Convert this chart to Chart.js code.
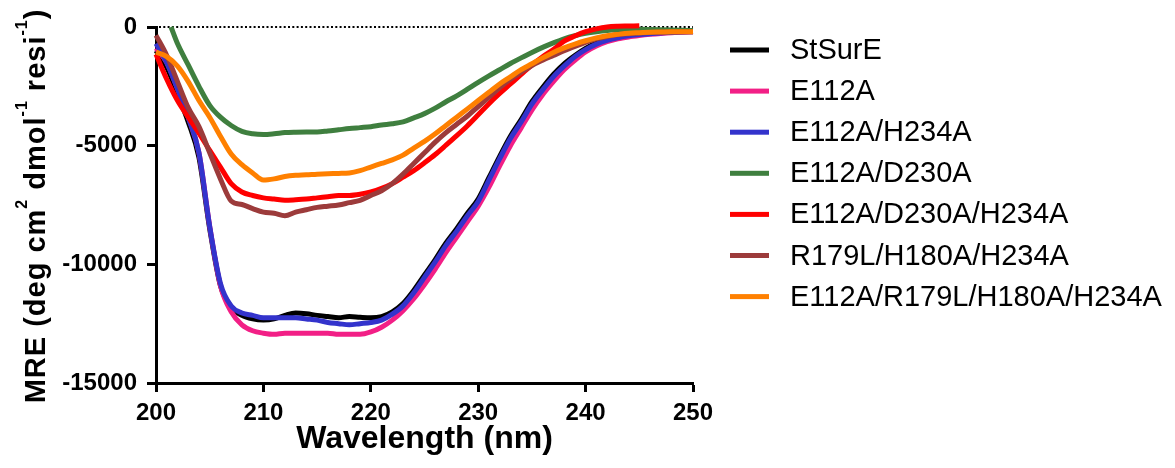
<!DOCTYPE html>
<html>
<head>
<meta charset="utf-8">
<script src="https://cdn.jsdelivr.net/npm/chart.js@4/dist/chart.umd.min.js"></script>
<style>
html,body{margin:0;padding:0;background:#fff;}
canvas{display:block;}
</style>
</head>
<body>
<canvas id="c" width="1175" height="468"></canvas>
<script>
// ---- Data ----
const wavelength = [200,201,202,203,204,205,206,207,208,209,210,211,212,213,214,215,216,217,218,219,220,221,222,223,224,225,226,227,228,229,230,231,232,233,234,235,236,237,238,239,240,241,242,243,244,245,246,247,248,249,250];
const greenWavelength = [201.4,202,203,204,205,206,207,208,209,210,211,212,213,214,215,216,217,218,219,220,221,222,223,224,225,226,227,228,229,230,231,232,233,234,235,236,237,238,239,240,241,242,243,244,245,246,247,248,249,250];
const redWavelength = [200,201,202,203,204,205,206,207,208,209,210,211,212,213,214,215,216,217,218,219,220,221,222,223,224,225,226,227,228,229,230,231,232,233,234,235,236,237,238,239,240,241,242,243,244,245];

const stSurE = [-1000,-1700,-2800,-4000,-5500,-8500,-10900,-11800,-12150,-12300,-12350,-12300,-12150,-12050,-12080,-12150,-12200,-12250,-12200,-12230,-12250,-12200,-12000,-11650,-11100,-10450,-9800,-9100,-8500,-7850,-7250,-6350,-5450,-4600,-3900,-3150,-2550,-2000,-1550,-1200,-900,-680,-520,-420,-350,-300,-260,-230,-210,-190,-180];
const e112a = [-900,-1500,-2600,-3800,-5300,-8400,-10900,-12000,-12550,-12800,-12900,-12950,-12900,-12900,-12900,-12900,-12900,-12950,-12950,-12950,-12850,-12650,-12350,-11950,-11450,-10850,-10200,-9500,-8850,-8200,-7550,-6750,-5850,-5000,-4250,-3500,-2850,-2300,-1800,-1400,-1050,-800,-620,-500,-420,-360,-310,-270,-240,-220,-200];
const e112aH234a = [-700,-1500,-2600,-3800,-5300,-8400,-10800,-11750,-12050,-12150,-12250,-12250,-12250,-12250,-12300,-12350,-12450,-12500,-12550,-12500,-12450,-12350,-12100,-11750,-11200,-10550,-9900,-9200,-8600,-7950,-7350,-6450,-5550,-4700,-4000,-3250,-2650,-2100,-1650,-1250,-950,-720,-560,-450,-370,-320,-280,-250,-230,-210,-200];
const e112aD230a = [0,-700,-1600,-2500,-3300,-3800,-4150,-4400,-4500,-4530,-4500,-4450,-4430,-4420,-4420,-4380,-4330,-4280,-4240,-4200,-4130,-4080,-4000,-3830,-3650,-3420,-3150,-2900,-2620,-2330,-2060,-1800,-1540,-1300,-1070,-860,-670,-500,-370,-270,-200,-150,-120,-100,-100,-110,-120,-130,-140,-150];
const e112aD230aH234a = [-1150,-2200,-3100,-3800,-4470,-5200,-5900,-6600,-6950,-7100,-7200,-7250,-7300,-7280,-7250,-7200,-7150,-7100,-7100,-7050,-6950,-6800,-6600,-6330,-6050,-5720,-5370,-4980,-4580,-4160,-3700,-3230,-2800,-2400,-2000,-1600,-1250,-950,-600,-380,-200,-80,0,30,40,50];
const r179lH180aH234a = [-350,-1200,-2300,-3400,-4200,-5300,-6400,-7330,-7480,-7650,-7800,-7850,-7950,-7800,-7700,-7600,-7550,-7500,-7400,-7300,-7100,-6900,-6600,-6200,-5750,-5300,-4850,-4450,-4100,-3750,-3350,-2950,-2550,-2200,-1900,-1620,-1400,-1200,-1000,-820,-650,-500,-400,-320,-280,-250,-230,-220,-210,-200,-200];
const e112aR179lH180aH234a = [-1050,-1250,-1650,-2300,-3100,-3800,-4600,-5350,-5800,-6150,-6450,-6400,-6300,-6250,-6230,-6200,-6180,-6170,-6150,-6050,-5900,-5750,-5600,-5400,-5100,-4820,-4500,-4150,-3800,-3450,-3100,-2750,-2400,-2100,-1800,-1550,-1300,-1070,-880,-720,-580,-460,-370,-310,-260,-240,-220,-210,-200,-200,-200];

const seriesLabels = ['StSurE','E112A','E112A/H234A','E112A/D230A','E112A/D230A/H234A','R179L/H180A/H234A','E112A/R179L/H180A/H234A'];
const seriesColors = ['#000000','#F21F86','#3333CC','#3F7F3F','#FF0000','#9C3B3B','#FF8000'];
const xTicks = [200,210,220,230,240,250];
const yTicks = [-15000,-10000,-5000,0];

const FONT = "'Liberation Sans', Arial, sans-serif";

function pts(xs, ys){ return ys.map((v,i)=>({x: xs[i], y: v})); }
const seriesData = [
  pts(wavelength, stSurE),
  pts(wavelength, e112a),
  pts(wavelength, e112aH234a),
  pts(greenWavelength, e112aD230a),
  pts(redWavelength, e112aD230aH234a),
  pts(wavelength, r179lH180aH234a),
  pts(wavelength, e112aR179lH180aH234a)
];

const datasets = seriesLabels.map((lab, i) => ({
  label: lab,
  data: seriesData[i],
  borderColor: seriesColors[i],
  backgroundColor: seriesColors[i],
  borderWidth: 5,
  pointRadius: 0,
  pointHoverRadius: 0,
  fill: false,
  cubicInterpolationMode: 'monotone',
  clip: 12,
  order: seriesLabels.length - i
}));

const zeroLine = {
  id: 'zeroLine',
  beforeDatasetsDraw(chart){
    const {ctx, chartArea, scales} = chart;
    const y = scales.y.getPixelForValue(0);
    ctx.save();
    ctx.strokeStyle = '#000';
    ctx.lineWidth = 2;
    ctx.setLineDash([2, 2.3]);
    ctx.beginPath();
    ctx.moveTo(chartArea.left + 3, y);
    ctx.lineTo(chartArea.right, y);
    ctx.stroke();
    ctx.restore();
  }
};

const yTitle = {
  id: 'yTitle',
  afterDraw(chart){
    const {ctx, chartArea} = chart;
    const segs = [['MRE (deg cm', false], ['2', true], [' dmol', false], ['-1', true], [' resi', false], ['-1', true], [')', false]];
    const mainFont = 'bold 29px ' + FONT;
    const supFont = 'bold 16px ' + FONT;
    ctx.save();
    ctx.fillStyle = '#000';
    ctx.textBaseline = 'alphabetic';
    ctx.textAlign = 'left';
    try { ctx.letterSpacing = '1px'; } catch (e) {}
    let total = 0;
    const widths = segs.map(s => { ctx.font = s[1] ? supFont : mainFont; const w = ctx.measureText(s[0]).width; total += w; return w; });
    ctx.translate(45, (chartArea.top + chartArea.bottom) / 2 + 1);
    ctx.rotate(-Math.PI / 2);
    let x = -total / 2;
    segs.forEach((s, i) => {
      ctx.font = s[1] ? supFont : mainFont;
      ctx.fillText(s[0], x, s[1] ? -18 : 0);
      x += widths[i];
    });
    ctx.restore();
  }
};

const sideLegend = {
  id: 'sideLegend',
  afterDraw(chart){
    const ctx = chart.ctx;
    ctx.save();
    ctx.font = '29px ' + FONT;
    ctx.textBaseline = 'middle';
    ctx.textAlign = 'left';
    chart.data.datasets.forEach((ds, i) => {
      const cy = 50 + i * 41.1;
      ctx.fillStyle = ds.borderColor;
      ctx.fillRect(730, cy - 2.5, 39, 5);
      ctx.fillStyle = '#000';
      ctx.fillText(ds.label, 790, cy + 1);
    });
    ctx.restore();
  }
};

new Chart(document.getElementById('c'), {
  type: 'line',
  data: { datasets },
  plugins: [zeroLine, yTitle, sideLegend],
  options: {
    responsive: false,
    animation: false,
    events: [],
    layout: { padding: { left: 62, right: 482, top: 27, bottom: 0 } },
    plugins: { legend: { display: false }, tooltip: { enabled: false } },
    scales: {
      x: {
        type: 'linear',
        min: xTicks[0], max: xTicks[xTicks.length - 1],
        afterBuildTicks(s){ s.ticks = xTicks.map(v => ({value: v})); },
        ticks: { font: { family: FONT, size: 24, weight: 'bold' }, color: '#000', padding: 7, maxRotation: 0, autoSkip: false, callback: v => String(v) },
        grid: { display: true, drawOnChartArea: false, drawTicks: true, tickLength: 9, tickWidth: 3, tickColor: '#000' },
        border: { display: true, color: '#000', width: 3 },
        title: { display: true, text: 'Wavelength (nm)', font: { family: FONT, size: 32, weight: 'bold' }, color: '#000', padding: { top: 0, bottom: 10 } },
        afterFit(s){ s.height = 85; }
      },
      y: {
        type: 'linear',
        min: yTicks[0], max: yTicks[yTicks.length - 1],
        afterBuildTicks(s){ s.ticks = yTicks.map(v => ({value: v})); },
        ticks: { font: { family: FONT, size: 24, weight: 'bold' }, color: '#000', padding: 10, callback: v => String(v) },
        grid: { display: true, drawOnChartArea: false, drawTicks: true, tickLength: 9, tickWidth: 3, tickColor: '#000' },
        border: { display: true, color: '#000', width: 3 },
        title: { display: false },
        afterFit(s){ s.width = 94; }
      }
    }
  }
});
</script>
</body>
</html>
